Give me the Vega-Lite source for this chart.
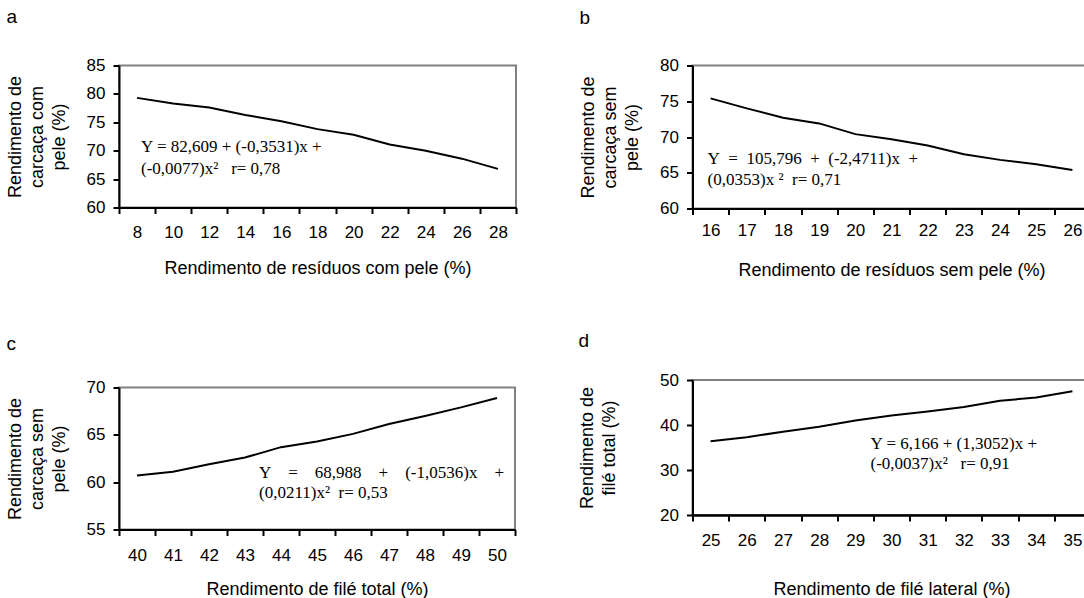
{
  "$schema": "https://vega.github.io/schema/vega-lite/v6.json",
  "background": "white",
  "padding": {"left": 5, "top": 6.5, "right": -6, "bottom": 0},
  "config": {
    "font": "Liberation Sans",
    "view": {"stroke": "#808080", "strokeWidth": 2},
    "axis": {
      "domainColor": "black", "domainWidth": 2,
      "tickColor": "black", "tickWidth": 2, "tickOpacity": 1,
      "labelFont": "Liberation Sans", "labelFontSize": 17, "labelColor": "black", "labelOverlap": false, "labelFlush": false,
      "titleFont": "Liberation Sans", "titleFontSize": 18, "titleFontWeight": "normal", "titleColor": "black",
      "grid": false
    },
    "axisX": {"tickSize": 6, "labelAngle": 0},
    "axisY": {"tickSize": 6, "labelPadding": 8, "titleLineHeight": 22},
    "title": {"font": "Liberation Sans", "fontSize": 19, "fontWeight": "normal", "anchor": "start", "frame": "bounds", "color": "black", "baseline": "alphabetic"},
    "text": {"font": "Liberation Serif", "fontSize": 17, "color": "black", "align": "left", "baseline": "middle"},
    "line": {"color": "black", "strokeWidth": 2}
  },
  "datasets": {
    "a": [
      {"x": 8, "y": 79.3}, {"x": 10, "y": 78.3}, {"x": 12, "y": 77.6}, {"x": 14, "y": 76.3},
      {"x": 16, "y": 75.2}, {"x": 18, "y": 73.8}, {"x": 20, "y": 72.8}, {"x": 22, "y": 71.1},
      {"x": 24, "y": 70.0}, {"x": 26, "y": 68.6}, {"x": 28, "y": 66.8}
    ],
    "a_eq": [
      {"x": 8, "y": 70.7, "t": "Y = 82,609 + (-0,3531)x +"},
      {"x": 8, "y": 66.8, "t": "(-0,0077)x²\u00a0\u00a0 r= 0,78"}
    ],
    "b": [
      {"x": 16, "y": 75.4}, {"x": 17, "y": 74.0}, {"x": 18, "y": 72.7}, {"x": 19, "y": 71.9},
      {"x": 20, "y": 70.4}, {"x": 21, "y": 69.7}, {"x": 22, "y": 68.8}, {"x": 23, "y": 67.6},
      {"x": 24, "y": 66.8}, {"x": 25, "y": 66.2}, {"x": 26, "y": 65.4}
    ],
    "b_eq": [
      {"x": 16, "y": 66.9, "t": "Y\u00a0 =\u00a0 105,796\u00a0 +\u00a0 (-2,4711)x\u00a0 +"},
      {"x": 16, "y": 64.0, "t": "(0,0353)x ²\u00a0 r= 0,71"}
    ],
    "c": [
      {"x": 40, "y": 60.7}, {"x": 41, "y": 61.1}, {"x": 42, "y": 61.9}, {"x": 43, "y": 62.6},
      {"x": 44, "y": 63.7}, {"x": 45, "y": 64.3}, {"x": 46, "y": 65.1}, {"x": 47, "y": 66.15},
      {"x": 48, "y": 67.0}, {"x": 49, "y": 67.9}, {"x": 50, "y": 68.9}
    ],
    "c_eq": [
      {"x": 43, "y": 61.0, "t": "Y\u00a0\u00a0\u00a0 =\u00a0\u00a0\u00a0 68,988\u00a0\u00a0\u00a0 +\u00a0\u00a0\u00a0 (-1,0536)x\u00a0\u00a0\u00a0 +"},
      {"x": 43, "y": 58.9, "t": "(0,0211)x²\u00a0 r= 0,53"}
    ],
    "d": [
      {"x": 25, "y": 36.4}, {"x": 26, "y": 37.3}, {"x": 27, "y": 38.5}, {"x": 28, "y": 39.6},
      {"x": 29, "y": 41.0}, {"x": 30, "y": 42.1}, {"x": 31, "y": 43.0}, {"x": 32, "y": 44.0},
      {"x": 33, "y": 45.4}, {"x": 34, "y": 46.1}, {"x": 35, "y": 47.5}
    ],
    "d_eq": [
      {"x": 30, "y": 35.8, "t": "Y = 6,166 + (1,3052)x +"},
      {"x": 30, "y": 31.4, "t": "(-0,0037)x²\u00a0\u00a0 r= 0,91"}
    ]
  },
  "hconcat": [
    {
      "vconcat": [
        {
          "width": 397, "height": 142,
          "title": {"text": "a", "offset": 29.2},
          "encoding": {
            "x": {"field": "x", "type": "quantitative",
                  "scale": {"domain": [7, 29], "nice": false, "zero": false},
                  "axis": {"orient": "bottom", "values": [8, 10, 12, 14, 16, 18, 20, 22, 24, 26, 28], "ticks": false,
                           "title": "Rendimento de resíduos com pele (%)", "labelPadding": 17, "titlePadding": 18.5}},
            "y": {"field": "y", "type": "quantitative",
                  "scale": {"domain": [60, 85], "nice": false, "zero": false},
                  "axis": {"values": [60, 65, 70, 75, 80, 85], "title": ["Rendimento de", "carcaça com", "pele (%)"], "titlePadding": 17.5}}
          },
          "layer": [
            {"data": {"name": "a"}, "mark": {"type": "line"}},
            {"data": {"name": "a_eq"}, "mark": {"type": "text", "dx": 4},
             "encoding": {
               "x": {"field": "x", "type": "quantitative",
                     "axis": {"orient": "bottom", "values": [7, 9, 11, 13, 15, 17, 19, 21, 23, 25, 27, 29], "labels": false, "ticks": true, "domain": true, "title": null}},
               "text": {"field": "t"}}}
          ],
          "resolve": {"axis": {"x": "independent"}}
        },
        {
          "width": 396, "height": 142,
          "title": {"text": "c", "offset": 24.4},
          "encoding": {
            "x": {"field": "x", "type": "quantitative",
                  "scale": {"domain": [39.5, 50.5], "nice": false, "zero": false},
                  "axis": {"orient": "bottom", "values": [40, 41, 42, 43, 44, 45, 46, 47, 48, 49, 50], "ticks": false,
                           "title": "Rendimento de filé total (%)", "labelPadding": 18.2, "titlePadding": 16.3}},
            "y": {"field": "y", "type": "quantitative",
                  "scale": {"domain": [55, 70], "nice": false, "zero": false},
                  "axis": {"values": [55, 60, 65, 70], "title": ["Rendimento de", "carcaça sem", "pele (%)"], "titlePadding": 17.5}}
          },
          "layer": [
            {"data": {"name": "c"}, "mark": {"type": "line"}},
            {"data": {"name": "c_eq"}, "mark": {"type": "text", "dx": 14},
             "encoding": {
               "x": {"field": "x", "type": "quantitative",
                     "axis": {"orient": "bottom", "values": [39.5, 40.5, 41.5, 42.5, 43.5, 44.5, 45.5, 46.5, 47.5, 48.5, 49.5, 50.5], "labels": false, "ticks": true, "domain": true, "title": null}},
               "text": {"field": "t"}}}
          ],
          "resolve": {"axis": {"x": "independent"}}
        }
      ],
      "spacing": 55
    },
    {
      "vconcat": [
        {
          "width": 398, "height": 143,
          "title": {"text": "b", "offset": 28.7},
          "encoding": {
            "x": {"field": "x", "type": "quantitative",
                  "scale": {"domain": [15.5, 26.5], "nice": false, "zero": false},
                  "axis": {"orient": "bottom", "values": [16, 17, 18, 19, 20, 21, 22, 23, 24, 25, 26], "ticks": false,
                           "title": "Rendimento de resíduos sem pele (%)", "labelPadding": 13.8, "titlePadding": 23}},
            "y": {"field": "y", "type": "quantitative",
                  "scale": {"domain": [60, 80], "nice": false, "zero": false},
                  "axis": {"values": [60, 65, 70, 75, 80], "title": ["Rendimento de", "carcaça sem", "pele (%)"], "titlePadding": 18}}
          },
          "layer": [
            {"data": {"name": "b"}, "mark": {"type": "line"}},
            {"data": {"name": "b_eq"}, "mark": {"type": "text", "dx": -3},
             "encoding": {
               "x": {"field": "x", "type": "quantitative",
                     "axis": {"orient": "bottom", "values": [15.5, 16.5, 17.5, 18.5, 19.5, 20.5, 21.5, 22.5, 23.5, 24.5, 25.5, 26.5], "labels": false, "ticks": true, "domain": true, "title": null}},
               "text": {"field": "t"}}}
          ],
          "resolve": {"axis": {"x": "independent"}}
        },
        {
          "width": 398, "height": 135,
          "title": {"text": "d", "offset": 20},
          "encoding": {
            "x": {"field": "x", "type": "quantitative",
                  "scale": {"domain": [24.5, 35.5], "nice": false, "zero": false},
                  "axis": {"orient": "bottom", "values": [25, 26, 27, 28, 29, 30, 31, 32, 33, 34, 35], "ticks": false,
                           "title": "Rendimento de filé lateral (%)", "labelPadding": 17.1, "titlePadding": 32.7}},
            "y": {"field": "y", "type": "quantitative",
                  "scale": {"domain": [20, 50], "nice": false, "zero": false},
                  "axis": {"values": [20, 30, 40, 50], "title": ["Rendimento de", "filé total (%)"], "titlePadding": 41}}
          },
          "layer": [
            {"data": {"name": "d"}, "mark": {"type": "line"}},
            {"data": {"name": "d_eq"}, "mark": {"type": "text", "dx": -21},
             "encoding": {
               "x": {"field": "x", "type": "quantitative",
                     "axis": {"orient": "bottom", "values": [24.5, 25.5, 26.5, 27.5, 28.5, 29.5, 30.5, 31.5, 32.5, 33.5, 34.5, 35.5], "labels": false, "ticks": true, "domain": true, "title": null}},
               "text": {"field": "t"}}}
          ],
          "resolve": {"axis": {"x": "independent"}}
        }
      ],
      "spacing": 50.5
    }
  ],
  "spacing": 59.5
}
